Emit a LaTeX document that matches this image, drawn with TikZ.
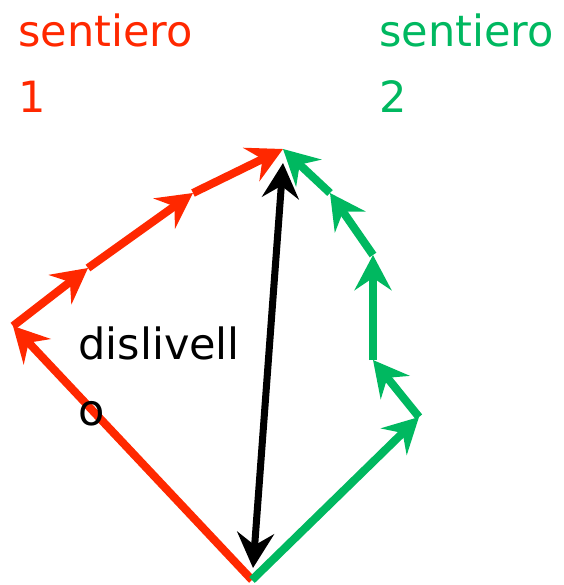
\documentclass[tikz,border=0pt]{standalone}
\usepackage{fontspec}
\setmainfont{DejaVu Sans}
\usetikzlibrary{arrows.meta}
\definecolor{pathred}{HTML}{FF2800}
\definecolor{pathgreen}{HTML}{00B860}
\begin{document}
\begin{tikzpicture}[x=0.02cm,y=-0.02cm,
    every node/.style={inner sep=0pt,anchor=north west,align=left},
    label/.style={font=\fontsize{24.5}{38}\selectfont},
    head/.tip={Stealth[length=20pt,width=21pt,inset=7pt]},
    leg/.style={line width=4.6pt,-head}]
    \useasboundingbox (0,0) rectangle (564,585);
    \coordinate (base) at (252,580);
    \coordinate (top) at (283,149);
    % sentiero 1
    \coordinate (r1) at (13,326);
    \coordinate (r2) at (88,268);
    \coordinate (r3) at (193,193);
    % sentiero 2
    \coordinate (g1) at (419,417);
    \coordinate (g2) at (373,360);
    \coordinate (g3) at (373,255);
    \coordinate (g4) at (330,193);
    % dislivello
    \coordinate (low) at (253,568);
    \coordinate (high) at (283,163);
    \draw[leg,pathred] (base) -- (r1);
    \draw[leg,pathred] (r1) -- (r2);
    \draw[leg,pathred] (r2) -- (r3);
    \draw[leg,pathred] (r3) -- (top);
    \draw[leg,pathgreen] (base) -- (g1);
    \draw[leg,pathgreen] (g1) -- (g2);
    \draw[leg,pathgreen] (g2) -- (g3);
    \draw[leg,pathgreen] (g3) -- (g4);
    \draw[leg,pathgreen] (g4) -- (top);
    \draw[line width=4pt,head-head] (low) -- (high);
    \node[label,pathred] (name1) at (18,13) {sentiero\\1};
    \node[label,pathgreen] (name2) at (379,13) {sentiero\\2};
    \node[label] (height) at (78,326) {dislivell\\o};
\end{tikzpicture}
\end{document}
